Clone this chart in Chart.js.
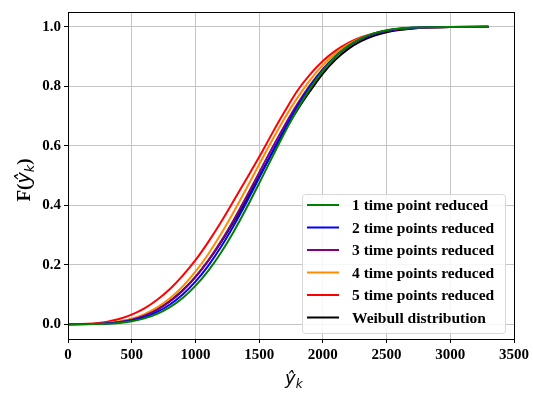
<!DOCTYPE html>
<html>
<head>
<meta charset="utf-8">
<script src="https://cdn.jsdelivr.net/npm/chart.js@4.4.1/dist/chart.umd.min.js"></script>
<style>
html, body { margin: 0; padding: 0; background: #fff; }
#wrap { width: 533px; height: 394px; }
</style>
</head>
<body>
<div id="wrap"><canvas id="cdfChart" width="533" height="394"></canvas></div>
<script>
const xValues = [0, 100, 200, 300, 400, 500, 600, 700, 800, 900,
  1000, 1100, 1200, 1300, 1400, 1500, 1600, 1700, 1800, 1900,
  2000, 2100, 2200, 2300, 2400, 2500, 2600, 2700, 2800, 3000, 3300];

const reduced1 = [0, 0, 0.0003, 0.0014, 0.0042, 0.0098, 0.0195, 0.0348, 0.0572, 0.088,
  0.1285, 0.179, 0.2403, 0.311, 0.3896, 0.4735, 0.5596, 0.6439, 0.7227, 0.7931,
  0.8526, 0.9002, 0.9361, 0.9615, 0.9782, 0.9885, 0.9944, 0.9975, 0.999, 0.9999, 1.0];
const reduced2 = [0, 0, 0.0004, 0.0019, 0.0054, 0.0122, 0.0236, 0.041, 0.066, 0.0997,
  0.1429, 0.1961, 0.2592, 0.3308, 0.4092, 0.492, 0.5757, 0.6568, 0.7322, 0.799,
  0.8557, 0.901, 0.9354, 0.9602, 0.9768, 0.9874, 0.9935, 0.9969, 0.9987, 0.9999, 1.0];
const reduced3 = [0, 0.0001, 0.0006, 0.0025, 0.007, 0.0151, 0.0284, 0.0483, 0.0759, 0.1124,
  0.1584, 0.2139, 0.2785, 0.3507, 0.4287, 0.5097, 0.5907, 0.6686, 0.7405, 0.8041,
  0.8578, 0.9012, 0.9343, 0.9585, 0.9751, 0.9859, 0.9925, 0.9962, 0.9982, 0.9998, 1.0];
const reduced4 = [0, 0.0001, 0.0008, 0.0032, 0.0086, 0.0182, 0.0336, 0.0561, 0.0869, 0.1268,
  0.1764, 0.2353, 0.3029, 0.3772, 0.4562, 0.5371, 0.6169, 0.6924, 0.761, 0.821,
  0.8711, 0.9109, 0.9411, 0.9629, 0.9778, 0.9874, 0.9933, 0.9966, 0.9984, 0.9998, 1.0];
const reduced5 = [0, 0.0003, 0.0022, 0.0072, 0.017, 0.032, 0.053, 0.082, 0.118, 0.163,
  0.215, 0.276, 0.343, 0.415, 0.488, 0.562, 0.64, 0.715, 0.785, 0.84,
  0.885, 0.92, 0.946, 0.965, 0.978, 0.987, 0.993, 0.996, 0.998, 0.9995, 1.0];
const weibull = [0, 0.0001, 0.0007, 0.0029, 0.0076, 0.0162, 0.03, 0.0501, 0.0778, 0.1138,
  0.1588, 0.2126, 0.2748, 0.3441, 0.4188, 0.4964, 0.5745, 0.6501, 0.7207, 0.7841,
  0.843, 0.89, 0.926, 0.952, 0.970, 0.982, 0.9895, 0.994, 0.997, 0.9993, 1.0];

const seriesNames = ['1 time point reduced', '2 time points reduced', '3 time points reduced',
  '4 time points reduced', '5 time points reduced', 'Weibull distribution'];
const seriesValues = [reduced1, reduced2, reduced3, reduced4, reduced5, weibull];
const seriesColors = ['#008000', '#0000ff', '#800080', '#ff8c00', '#ff0000', '#000000'];

const xTicks = [0, 500, 1000, 1500, 2000, 2500, 3000, 3500];
const yTicks = [0.0, 0.2, 0.4, 0.6, 0.8, 1.0];

const tickFont = { family: 'Liberation Serif', size: 15, weight: 'bold' };

// black frame round the plot, legend box, axis titles
const decor = {
  id: 'decor',
  afterDraw(chart) {
    const c = chart.ctx;
    const a = chart.chartArea;
    c.save();
    c.strokeStyle = '#000';
    c.lineWidth = 1;
    c.strokeRect(Math.round(a.left) + 0.5, Math.round(a.top) + 0.5,
      Math.round(a.right - a.left), Math.round(a.bottom - a.top));

    // legend
    const bx = 302, by = 194, bw = 203, bh = 139;
    c.beginPath();
    c.roundRect(bx + 0.5, by + 0.5, bw, bh, 3);
    c.fillStyle = 'rgba(255,255,255,0.85)';
    c.fill();
    c.strokeStyle = '#d8d8d8';
    c.stroke();
    c.font = 'bold 15.5px "Liberation Serif"';
    c.textBaseline = 'middle';
    chart.data.datasets.forEach((ds, i) => {
      const ry = 205 + i * 22.5;
      c.strokeStyle = ds.borderColor;
      c.lineWidth = 2;
      c.beginPath();
      c.moveTo(307, ry);
      c.lineTo(339, ry);
      c.stroke();
      c.fillStyle = '#000';
      c.fillText(ds.label, 352, ry + 1);
    });

    // x title: y-hat with subscript k
    c.fillStyle = '#000';
    c.textBaseline = 'alphabetic';
    c.font = 'italic 18px "DejaVu Sans"';
    const cx = (a.left + a.right) / 2 - 6;
    c.fillText('ŷ', cx, 384);
    const w1 = c.measureText('ŷ').width;
    c.font = 'italic 12px "DejaVu Sans"';
    c.fillText('k', cx + w1, 388);

    // y title F(y-hat_k), rotated
    c.translate(24, 180);
    c.rotate(-Math.PI / 2);
    const parts = [
      ['F(', 'bold 19px "Liberation Serif"', 0],
      ['ŷ', 'italic 19px "DejaVu Sans"', 0],
      ['k', 'italic 13px "DejaVu Sans"', 4],
      [')', 'bold 19px "Liberation Serif"', 0]
    ];
    let total = 0;
    parts.forEach(p => { c.font = p[1]; total += c.measureText(p[0]).width; });
    let px = -total / 2;
    parts.forEach(p => {
      c.font = p[1];
      c.fillText(p[0], px, 6 + p[2]);
      px += c.measureText(p[0]).width;
    });
    c.restore();
  }
};

const chart = new Chart(document.getElementById('cdfChart'), {
  type: 'line',
  data: {
    datasets: seriesNames.map((name, i) => ({
      label: name,
      data: xValues.map((x, j) => ({ x: x, y: seriesValues[i][j] })),
      borderColor: seriesColors[i],
      backgroundColor: seriesColors[i],
      borderWidth: 2,
      pointRadius: 0,
      cubicInterpolationMode: 'monotone',
      fill: false
    }))
  },
  options: {
    responsive: false,
    animation: false,
    layout: { padding: { left: 0, top: 8, right: 19, bottom: 0 } },
    plugins: { legend: { display: false }, tooltip: { enabled: false } },
    scales: {
      x: {
        type: 'linear',
        min: 0,
        max: 3500,
        afterBuildTicks: s => { s.ticks = xTicks.map(v => ({ value: v })); },
        afterFit: s => { s.height = 55; },
        grid: { color: '#c4c4c4', lineWidth: 1, tickColor: '#000', tickLength: 4 },
        border: { color: '#000' },
        ticks: { color: '#000', font: tickFont, padding: 3, maxRotation: 0, callback: v => String(v) }
      },
      y: {
        type: 'linear',
        min: -0.05,
        max: 1.05,
        afterBuildTicks: s => { s.ticks = yTicks.map(v => ({ value: v })); },
        afterFit: s => { s.width = 68; },
        grid: { color: '#c4c4c4', lineWidth: 1, tickColor: '#000', tickLength: 4 },
        border: { color: '#000' },
        ticks: { color: '#000', font: tickFont, padding: 3, callback: v => v.toFixed(1) }
      }
    }
  },
  plugins: [decor]
});
</script>
</body>
</html>
